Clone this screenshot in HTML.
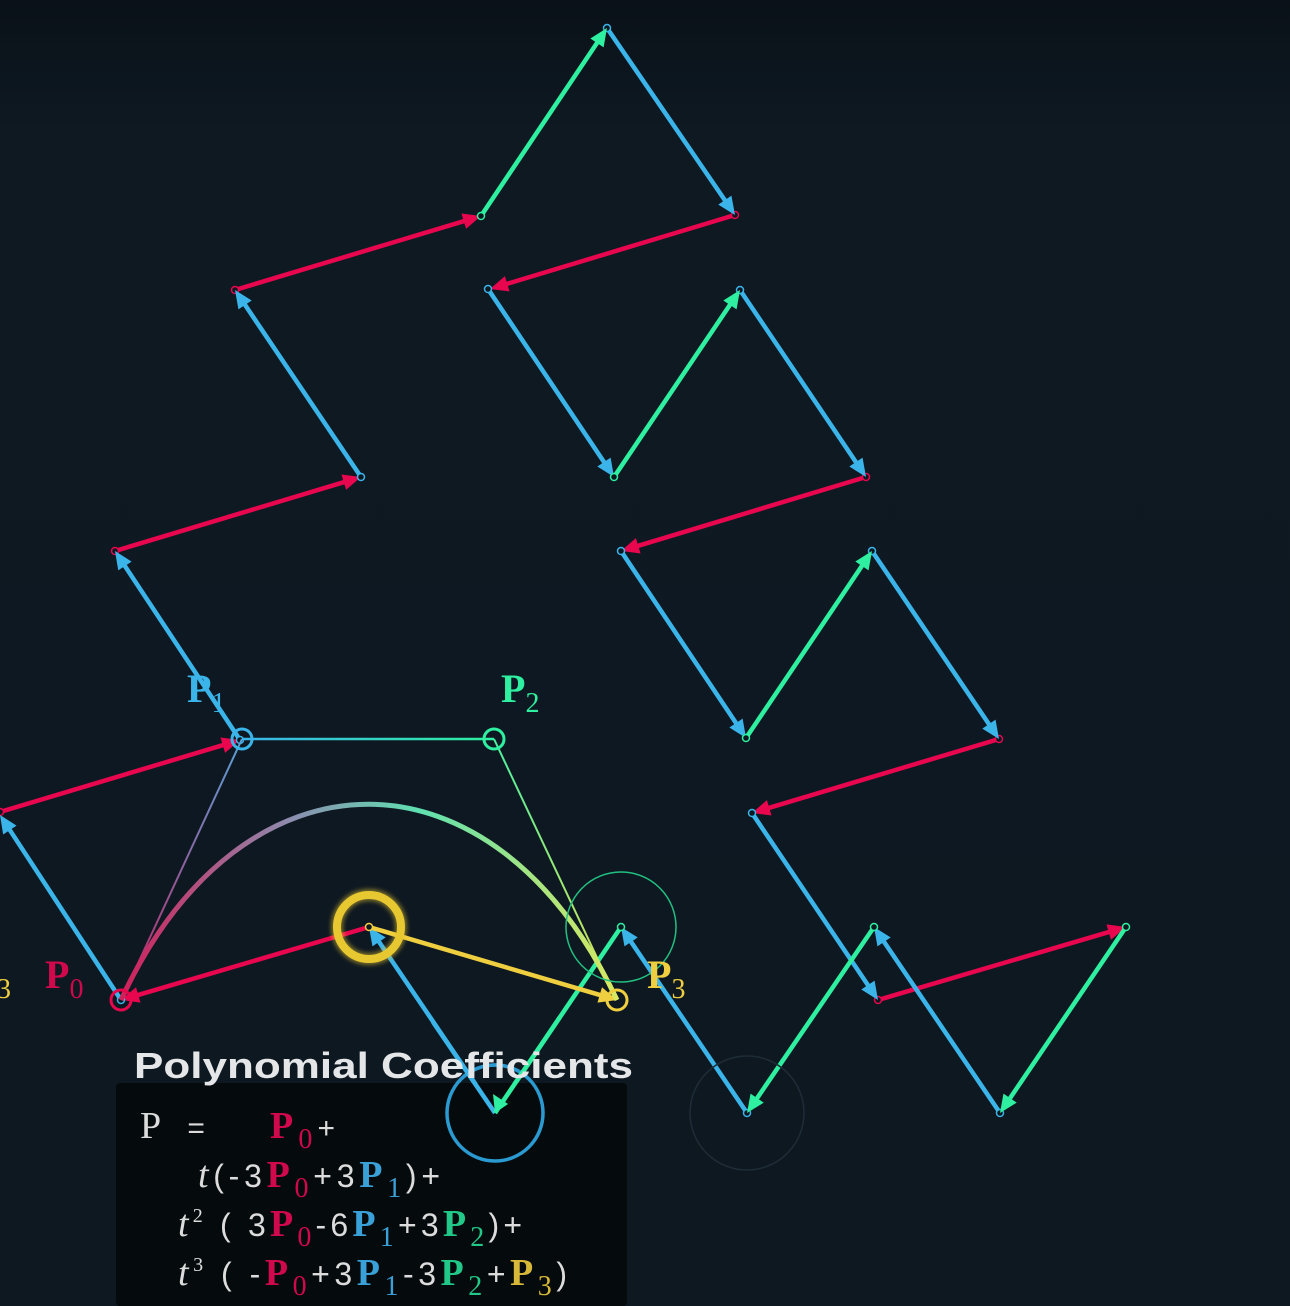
<!DOCTYPE html>
<html><head><meta charset="utf-8"><style>
html,body{margin:0;padding:0;background:#0e1821;}
svg{display:block}
</style></head><body>
<svg id="scene" width="1290" height="1306" viewBox="0 0 1290 1306" xmlns="http://www.w3.org/2000/svg">
<defs>
<linearGradient id="bg" x1="0" y1="0" x2="0" y2="1"><stop offset="0" stop-color="#0a1118"/><stop offset="0.1" stop-color="#0e1922"/><stop offset="1" stop-color="#0e1821"/></linearGradient>
<linearGradient id="curveGrad" x1="121" y1="0" x2="617" y2="0" gradientUnits="userSpaceOnUse"><stop offset="0" stop-color="#d0205a"/><stop offset="0.35" stop-color="#8a8fb0"/><stop offset="0.6" stop-color="#5fe0b0"/><stop offset="1" stop-color="#d8e860"/></linearGradient>
<linearGradient id="p12" x1="242" y1="0" x2="494" y2="0" gradientUnits="userSpaceOnUse"><stop offset="0" stop-color="#3bb4ea"/><stop offset="1" stop-color="#2ef0a0"/></linearGradient>
<linearGradient id="p01" x1="0" y1="1000" x2="0" y2="739" gradientUnits="userSpaceOnUse"><stop offset="0" stop-color="#c02060"/><stop offset="1" stop-color="#5aa0d8"/></linearGradient>
<linearGradient id="p23" x1="0" y1="739" x2="0" y2="1000" gradientUnits="userSpaceOnUse"><stop offset="0" stop-color="#4af0a0"/><stop offset="1" stop-color="#e0e050"/></linearGradient>
<filter id="glow" x="-50%" y="-50%" width="200%" height="200%"><feGaussianBlur stdDeviation="2"/></filter>
</defs>
<rect width="1290" height="1306" fill="url(#bg)"/>
<g id="arrows"></g>
<g id="overlay"></g>
</svg>
<script>
// arrow data: [x1,y1,x2,y2]
const redArrows = [[0,812,240,740],[115,551,361,477],[235,290,481,216],[735,215,490,289],[866,477,621,551],[999,739,752,813],[878,1000,1126,927],[369,927,121,1000]];
const blueArrows = [[361,477,235,290],[240,740,115,551],[121,1000,0,815],[607,28,735,215],[488,289,614,477],[740,290,866,477],[621,551,746,738],[872,551,999,739],[752,813,878,1000],[495,1113,369,927],[747,1113,621,927],[1000,1113,874,927]];
const greenArrows = [[481,216,607,28],[614,477,740,290],[746,738,872,551],[621,927,495,1113],[874,927,747,1113],[1126,927,1000,1113]];
const yellowArrows = [[369,927,617,1000]];
const ctrlX = [121,242,494,617];
const ctrlY = [1000,739,739,1000];

const NS='http://www.w3.org/2000/svg';
const g=document.getElementById('arrows');
const ov=document.getElementById('overlay');
function mk(tag,attrs,parent){const e=document.createElementNS(NS,tag);for(const k in attrs)e.setAttribute(k,attrs[k]);parent.appendChild(e);return e;}
function drawArrow(a,color,name){
  const [x1,y1,x2,y2]=a;const dx=x2-x1,dy=y2-y1,L=Math.hypot(dx,dy),ux=dx/L,uy=dy/L;
  const hl=18,hw=8;const bx=x2-ux*hl,by=y2-uy*hl;
  const grp=mk('g',{},g);
  
  
  mk('line',{x1:x1,y1:y1,x2:bx,y2:by,stroke:color,'stroke-width':4.5,'stroke-linecap':'round'},grp);
  mk('polygon',{points:`${x2},${y2} ${bx-uy*hw},${by+ux*hw} ${bx+uy*hw},${by-ux*hw}`,fill:color},grp);
  mk('circle',{cx:x1,cy:y1,r:3.5,fill:'#0e1821',stroke:color,'stroke-width':1.5},grp);
}
redArrows.forEach(a=>drawArrow(a,'#e8064e','red-arrow'));
blueArrows.forEach(a=>drawArrow(a,'#3bb4ea','blue-arrow'));
greenArrows.forEach(a=>drawArrow(a,'#2ef0a0','green-arrow'));
yellowArrows.forEach(a=>drawArrow(a,'#efcf40','yellow-arrow'));

let e;
e=mk('line',{x1:ctrlX[0],y1:ctrlY[0],x2:ctrlX[1],y2:ctrlY[1],stroke:'url(#p01)','stroke-width':2},ov);


e=mk('line',{x1:ctrlX[1],y1:ctrlY[1],x2:ctrlX[2],y2:ctrlY[2],stroke:'url(#p12)','stroke-width':2.5},ov);


e=mk('line',{x1:ctrlX[2],y1:ctrlY[2],x2:ctrlX[3],y2:ctrlY[3],stroke:'url(#p23)','stroke-width':2},ov);


e=mk('path',{d:`M${ctrlX[0]},${ctrlY[0]} C${ctrlX[1]},${ctrlY[1]} ${ctrlX[2]},${ctrlY[2]} ${ctrlX[3]},${ctrlY[3]}`,fill:'none',stroke:'url(#curveGrad)','stroke-width':5},ov);



const rings=[[369,927,32,'#e8c830',8,'yellow-glow-ring'],[621,927,55,'#22c080',1.5,'green-ring'],[495,1113,48,'#2a9ad0',3.5,'blue-ring'],[747,1113,57,'#1e2c38',1.5,'dark-ring']];
rings.forEach(r=>{
  if(r[5]==='yellow-glow-ring'){mk('circle',{cx:r[0],cy:r[1],r:r[2],fill:'none',stroke:r[3],'stroke-width':12,opacity:0.5,filter:'url(#glow)'},ov);}
  e=mk('circle',{cx:r[0],cy:r[1],r:r[2],fill:'none',stroke:r[3],'stroke-width':r[4]},ov);
  
  
});
const ctrlColors=['#e8064e','#3bb4ea','#2ef0a0','#efcf40'];
const ctrlNames=['p0-handle','p1-handle','p2-handle','p3-handle'];
for(let i=0;i<4;i++){
  e=mk('circle',{cx:ctrlX[i],cy:ctrlY[i],r:10,fill:'none',stroke:ctrlColors[i],'stroke-width':3},ov);
  
  
}
</script>
<svg style="position:absolute;left:0;top:0" width="1290" height="1306">
<g font-family="Liberation Serif, serif" font-weight="bold" font-size="40">
<text x="187" y="702" fill="#3bb4ea">P<tspan font-weight="normal" font-size="28" dy="10">1</tspan></text>
<text x="501" y="702" fill="#2ef0a0">P<tspan font-weight="normal" font-size="28" dy="10">2</tspan></text>
<text x="45" y="988" fill="#d0084c">P<tspan font-weight="normal" font-size="28" dy="10">0</tspan></text>
<text x="647" y="988" fill="#efcf40">P<tspan font-weight="normal" font-size="28" dy="10">3</tspan></text>
<text x="-3" y="998" fill="#efcf40" font-weight="normal" font-size="28">3</text>
</g>
<rect x="116" y="1083" width="511" height="223" rx="4" fill="#05090c" opacity="0.95"/>
<circle cx="495" cy="1113" r="48" fill="none" stroke="#2a9ad0" stroke-width="3.5"/>
<line x1="495" y1="1113" x2="433" y2="1022" stroke="#3bb4ea" stroke-width="4.5"/>
<line x1="495" y1="1113" x2="560" y2="1017" stroke="#2ef0a0" stroke-width="4.5"/>
<polygon points="495,1113 493,1094 508,1104" fill="#2ef0a0"/>
<text x="134" y="1078" textLength="499" lengthAdjust="spacingAndGlyphs" font-family="Liberation Sans, sans-serif" font-weight="bold" font-size="36" fill="#e4e6e8">Polynomial Coefficients</text>
<g font-family="Liberation Serif, serif" font-size="38" fill="#dcdcdc">
<text x="140" y="1138" textLength="195" lengthAdjust="spacing">P <tspan font-family="Liberation Sans, sans-serif" font-size="30" dx="8">=</tspan><tspan dx="60" fill="#d0084c" font-weight="bold">P</tspan><tspan fill="#d0084c" font-size="28" dy="10">0</tspan><tspan font-family="Liberation Sans, sans-serif" font-size="30" dy="-10">+</tspan></text>
<text x="198" y="1187" textLength="242" lengthAdjust="spacing"><tspan font-style="italic">t</tspan><tspan font-family="Liberation Sans, sans-serif" font-size="32">(-3</tspan><tspan fill="#d0084c" font-weight="bold">P</tspan><tspan fill="#d0084c" font-size="28" dy="10">0</tspan><tspan font-family="Liberation Sans, sans-serif" font-size="32" dy="-10">+3</tspan><tspan fill="#3aa0d8" font-weight="bold">P</tspan><tspan fill="#3aa0d8" font-size="28" dy="10">1</tspan><tspan font-family="Liberation Sans, sans-serif" font-size="32" dy="-10">)+</tspan></text>
<text x="178" y="1236" textLength="344" lengthAdjust="spacing"><tspan font-style="italic">t</tspan><tspan font-size="20" dy="-14">2</tspan><tspan font-family="Liberation Sans, sans-serif" font-size="32" dy="14"> ( 3</tspan><tspan fill="#d0084c" font-weight="bold">P</tspan><tspan fill="#d0084c" font-size="28" dy="10">0</tspan><tspan font-family="Liberation Sans, sans-serif" font-size="32" dy="-10">-6</tspan><tspan fill="#3aa0d8" font-weight="bold">P</tspan><tspan fill="#3aa0d8" font-size="28" dy="10">1</tspan><tspan font-family="Liberation Sans, sans-serif" font-size="32" dy="-10">+3</tspan><tspan fill="#22c888" font-weight="bold">P</tspan><tspan fill="#22c888" font-size="28" dy="10">2</tspan><tspan font-family="Liberation Sans, sans-serif" font-size="32" dy="-10">)+</tspan></text>
<text x="178" y="1285" textLength="389" lengthAdjust="spacing"><tspan font-style="italic">t</tspan><tspan font-size="20" dy="-14">3</tspan><tspan font-family="Liberation Sans, sans-serif" font-size="32" dy="14"> ( -</tspan><tspan fill="#d0084c" font-weight="bold">P</tspan><tspan fill="#d0084c" font-size="28" dy="10">0</tspan><tspan font-family="Liberation Sans, sans-serif" font-size="32" dy="-10">+3</tspan><tspan fill="#3aa0d8" font-weight="bold">P</tspan><tspan fill="#3aa0d8" font-size="28" dy="10">1</tspan><tspan font-family="Liberation Sans, sans-serif" font-size="32" dy="-10">-3</tspan><tspan fill="#22c888" font-weight="bold">P</tspan><tspan fill="#22c888" font-size="28" dy="10">2</tspan><tspan font-family="Liberation Sans, sans-serif" font-size="32" dy="-10">+</tspan><tspan fill="#d8b838" font-weight="bold">P</tspan><tspan fill="#d8b838" font-size="28" dy="10">3</tspan><tspan font-family="Liberation Sans, sans-serif" font-size="32" dy="-10">)</tspan></text>
</g>
</svg>
</body></html>
